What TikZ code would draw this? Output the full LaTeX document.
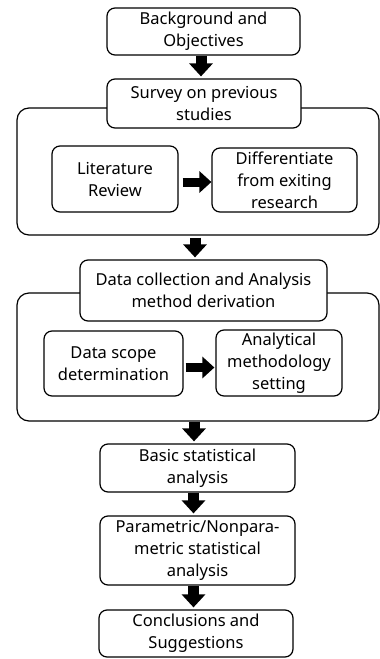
\documentclass[tikz,border=0pt]{standalone}
\usepackage{fontspec}
\setmainfont{Noto Sans}
\usetikzlibrary{arrows.meta}

\tikzset{
  box/.style={draw, fill=white, rounded corners=8pt, line width=1.2pt,
    align=center, inner sep=0pt, font=\fontsize{16.5}{22}\selectfont},
  group/.style={draw, rounded corners=12pt, line width=1.2pt, inner sep=0pt},
  varrow/.style={line width=11pt, -{Triangle[width=23pt,length=13pt]}, shorten >=2pt},
  harrow/.style={line width=9pt, -{Triangle[width=21pt,length=12pt]}}
}

\begin{document}
\begin{tikzpicture}[x=1pt,y=-1pt]
\useasboundingbox (0,0) rectangle (380,659);

% frames round the sub steps
\node[group, minimum width=362pt, minimum height=127pt] (grp1) at (198,171.5) {};
\node[group, minimum width=362pt, minimum height=128pt] (grp2) at (198,357) {};

% main steps
\node[box, minimum width=193pt, minimum height=47pt] (bg) at (203.5,31.5) {Background and\\Objectives};
\node[box, minimum width=194pt, minimum height=49pt] (survey) at (204,103.5) {Survey on previous\\studies};
\node[box, minimum width=126pt, minimum height=66pt] (lit) at (115,179) {Literature\\Review};
\node[box, minimum width=145pt, minimum height=64pt] (diff) at (284.5,180) {Differentiate\\from exiting\\research};
\node[box, minimum width=247pt, minimum height=61pt] (data) at (203.5,290.5) {Data collection and Analysis\\method derivation};
\node[box, minimum width=139pt, minimum height=65pt] (scope) at (113.5,363.5) {Data scope\\determination};
\node[box, minimum width=126pt, minimum height=66pt] (method) at (279,363) {Analytical\\methodology\\setting};
\node[box, minimum width=195pt, minimum height=48pt] (basic) at (197.5,468) {Basic statistical\\analysis};
\node[box, minimum width=195pt, minimum height=69pt] (param) at (197.5,550.5) {Parametric/Nonpara-\\metric statistical\\analysis};
\node[box, minimum width=194pt, minimum height=47pt] (concl) at (196,633.5) {Conclusions and\\Suggestions};

% arrows
\draw[varrow] ([xshift=-2.5pt]bg.south) -- ([xshift=-2.5pt]bg.south |- survey.north);
\draw[varrow, shorten <=2pt] ([xshift=-3pt]grp1.south) -- ([xshift=-3pt]grp1.south |- data.north);
\draw[varrow] ([xshift=-4pt]grp2.south) -- ([xshift=-4pt]grp2.south |- basic.north);
\draw[varrow] ([xshift=-4pt]basic.south) -- ([xshift=-4pt]basic.south |- param.north);
\draw[varrow] ([xshift=-4pt]param.south) -- ([xshift=-4pt]param.south |- concl.north);
\draw[harrow] ([xshift=4pt,yshift=-3pt]lit.east) -- ([yshift=-3pt]lit.east -| diff.west);
\draw[harrow] ([xshift=2pt,yshift=-4pt]scope.east) -- ([xshift=-1pt,yshift=-4pt]scope.east -| method.west);
\end{tikzpicture}
\end{document}
